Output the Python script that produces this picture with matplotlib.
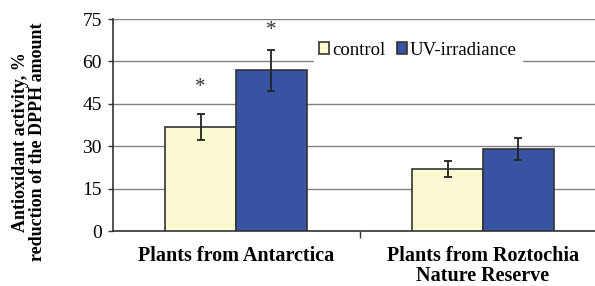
import numpy as np
import matplotlib.pyplot as plt

plt.rcParams['font.family'] = ['Liberation Serif', 'DejaVu Serif']

groups = ['Plants from Antarctica', 'Plants from Roztochia\nNature Reserve']
control = [36.8, 21.8]
control_err = [4.7, 2.8]
uv = [56.8, 29.0]
uv_err = [7.3, 4.0]
# significance marks: (group index, series, height)
stars = [(0, 'control', 50.7), (0, 'uv', 71.0)]

fig = plt.figure(figsize=(5.95, 2.86), dpi=100)
ax = fig.add_axes([112.5 / 595, 1 - 231 / 286, 494 / 595, 212 / 286])

x = np.arange(len(groups))
w = 0.287
ax.bar(x - w / 2, control, w, color='#FAF8D0', edgecolor='#333333', linewidth=1.2,
       label='control', zorder=3)
ax.bar(x + w / 2, uv, w, color='#3953A4', edgecolor='#333333', linewidth=1.2,
       label='UV-irradiance', zorder=3)
ax.errorbar(x - w / 2, control, yerr=control_err, fmt='none', ecolor='#222222',
            elinewidth=1.3, capsize=3, capthick=1.3, zorder=4)
ax.errorbar(x + w / 2, uv, yerr=uv_err, fmt='none', ecolor='#222222',
            elinewidth=1.3, capsize=3, capthick=1.3, zorder=4)

for gi, series, h in stars:
    xs = x[gi] - w / 2 if series == 'control' else x[gi] + w / 2
    ax.text(xs, h, '*', ha='center', va='center', fontsize=15, color='#333333')

ax.set_xlim(-0.5, 1.5)
ax.set_ylim(0, 75)
ax.set_yticks(np.arange(0, 76, 15))
ax.yaxis.grid(True, color='#808080', linewidth=1)
ax.set_axisbelow(True)
ax.set_xticks(x)
ax.set_xticklabels(groups, fontweight='bold', fontsize=14.5, linespacing=1.0)
ax.set_xticks([0.5], minor=True)
ax.tick_params(axis='x', which='major', length=0, pad=11)
ax.tick_params(axis='x', which='minor', length=5, width=1, color='#333333')
ax.tick_params(axis='y', length=3.6, width=1, color='#333333', labelsize=14, pad=4)
for s in ['top', 'right']:
    ax.spines[s].set_visible(False)
for s in ['left', 'bottom']:
    ax.spines[s].set_color('#333333')
    ax.spines[s].set_linewidth(1.2)

ax.set_ylabel('Antioxidant activity, %\nreduction of the DPPH amount',
              fontweight='bold', fontsize=13, linespacing=1.0)
ax.yaxis.set_label_coords(-0.134, 0.42)

leg = ax.legend(loc='upper left', bbox_to_anchor=(201 / 494, 1 - 17 / 212), ncol=2,
                frameon=True, fontsize=13.5, handlelength=0.55, handleheight=0.55,
                handletextpad=0.15, columnspacing=0.6, borderpad=0.3, borderaxespad=0)
leg.get_frame().set_edgecolor('white')
leg.get_frame().set_facecolor('white')
leg.get_frame().set_alpha(1)
leg.get_frame().set_boxstyle('square', pad=0)
leg.set_zorder(5)

fig.savefig('out.png', dpi=100)
